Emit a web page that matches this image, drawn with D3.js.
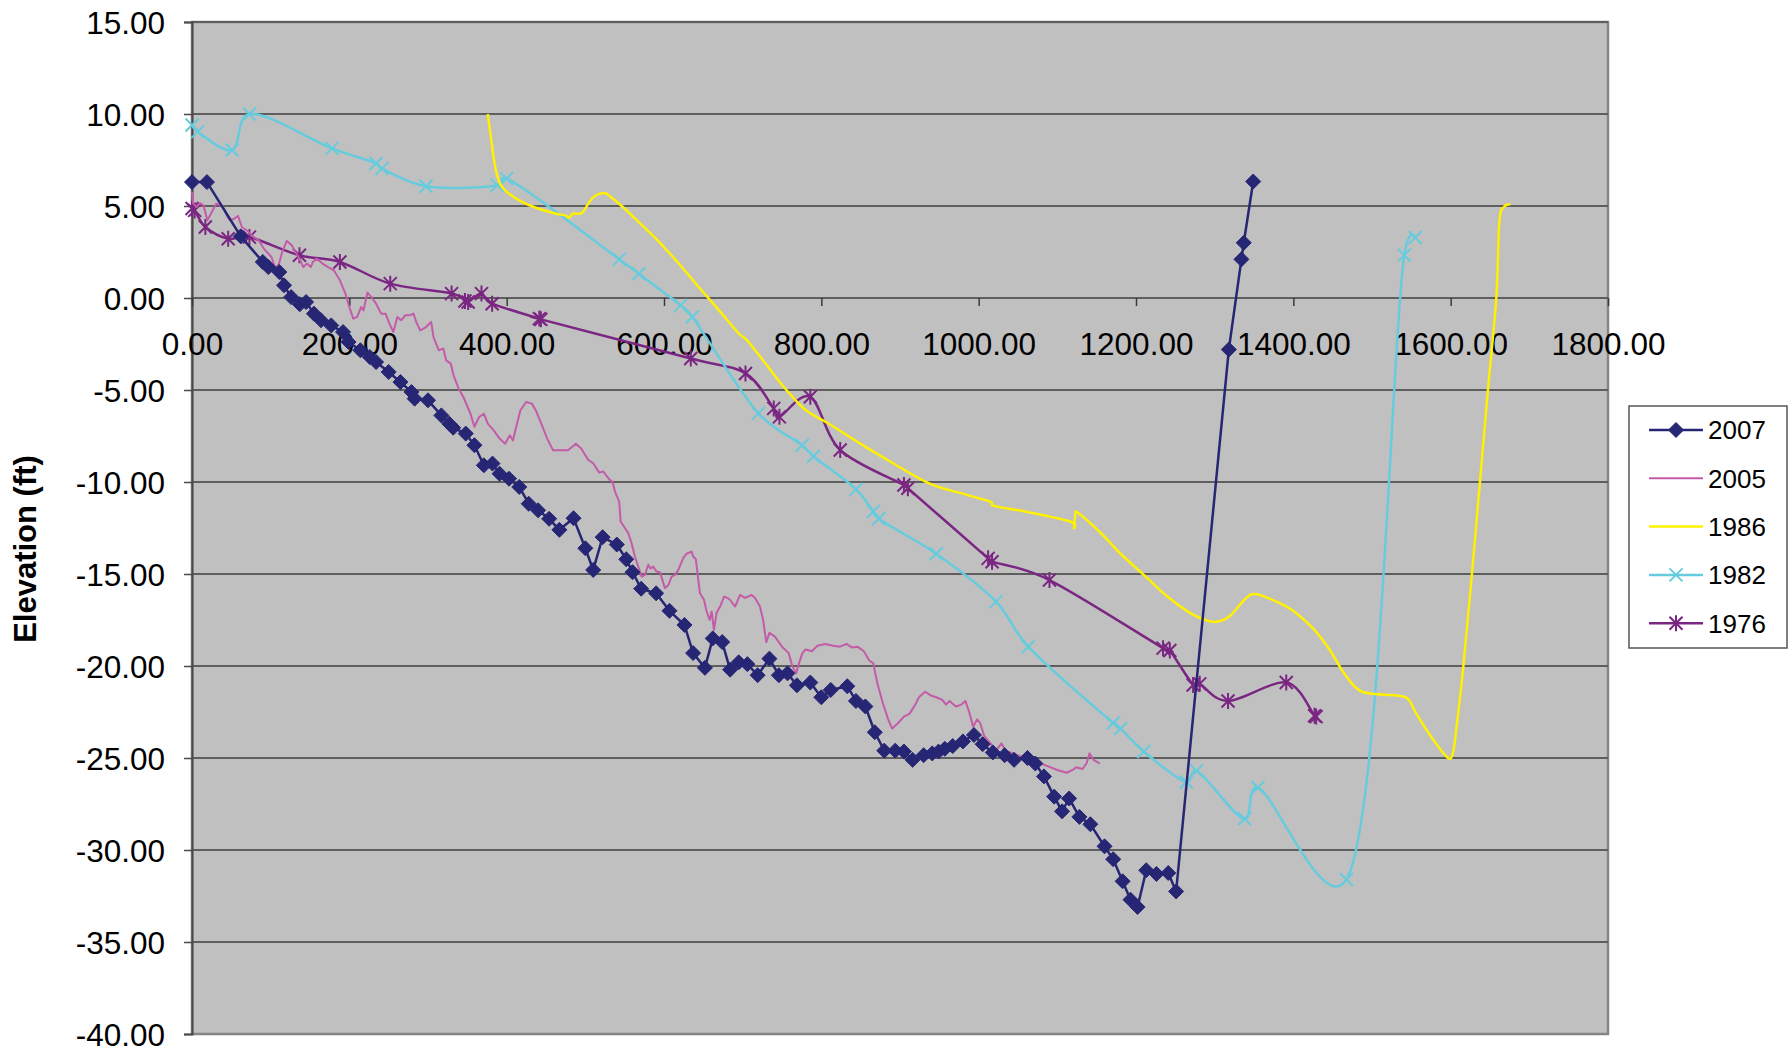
<!DOCTYPE html>
<html><head><meta charset="utf-8">
<script src="https://cdn.jsdelivr.net/npm/d3@7"></script>
<style>
html,body{margin:0;padding:0;background:#fff;}
svg{display:block;font-family:"Liberation Sans",Arial,sans-serif;}
</style></head>
<body>
<svg id="chart" width="1791" height="1052"></svg>
<script>
// ---------- DATA (distance, elevation ft) ----------
const seriesNames = ["2007","2005","1986","1982","1976"];
const xTicks = [0,200,400,600,800,1000,1200,1400,1600,1800];
const yTicks = [15,10,5,0,-5,-10,-15,-20,-25,-30,-35,-40];

const s2007 = [[0,6.3],[19,6.3],[62,3.35],[90,1.96],[97,1.68],[111,1.41],[117,0.69],[126,0.05],[137,-0.34],[145,-0.22],
 [155,-0.85],[164,-1.21],[177,-1.49],[192,-1.85],[199,-2.39],[214,-2.84],[226,-3.21],[234,-3.48],[250,-4.02],[265,-4.57],
 [279,-5.11],[283,-5.47],[300,-5.56],[317,-6.38],[327,-6.83],[332,-7.05],[348,-7.37],[359,-8.0],[371,-9.09],[382,-9.0],
 [391,-9.55],[403,-9.82],[416,-10.27],[428,-11.18],[440,-11.54],[454,-12.0],[467,-12.6],[485,-11.97],[500,-13.6],[510,-14.78],
 [522,-13.0],[540,-13.4],[552,-14.2],[560,-14.9],[571,-15.8],[590,-16.05],[607,-17.0],[626,-17.77],[637,-19.3],[652,-20.1],
 [662,-18.5],[674,-18.7],[684,-20.2],[695,-19.8],[706,-19.9],[719,-20.5],[734,-19.6],[746,-20.5],[757,-20.4],[769,-21.05],
 [786,-20.9],[800,-21.7],[812,-21.3],[833,-21.1],[844,-21.9],[856,-22.2],[868,-23.6],[880,-24.6],[894,-24.6],[905,-24.65],
 [916,-25.1],[930,-24.85],[941,-24.75],[949,-24.65],[957,-24.5],[967,-24.35],[980,-24.1],[994,-23.75],[1005,-24.25],[1018,-24.7],
 [1033,-24.85],[1045,-25.1],[1062,-25.0],[1072,-25.3],[1083,-26.0],[1096,-27.1],[1106,-27.9],[1115,-27.2],[1128,-28.2],[1142,-28.6],
 [1160,-29.8],[1171,-30.5],[1183,-31.7],[1193,-32.7],[1202,-33.1],[1213,-31.1],[1226,-31.3],[1241,-31.25],[1251,-32.25],
 [1318,-2.8],[1334,2.1],[1337,3.0],[1349,6.33]];

const s2005 = [[0,5.76],[1.5,5.13],[6,4.95],[10,5.16],[14.6,5.04],[19.5,4.22],[24,4.58],[30.7,5.13],[39,5.0],[44,4.5],
 [48,4.22],[53.6,4.31],[58.5,4.46],[63.4,3.86],[70.7,3.64],[75.6,3.4],[85,3.13],[90,2.77],[95,2.5],[101,2.23],[106,1.6],
 [110.7,1.87],[114.6,2.5],[120.5,3.1],[127,2.86],[130,2.59],[136.6,2.14],[141.5,1.68],[146,1.87],[151,1.68],[153.7,1.96],
 [158.5,2.14],[166,1.87],[173,1.68],[180.5,1.5],[188,0.96],[195,0.24],[200,-0.49],[205,-1.12],[210,-1.03],[215,-0.49],
 [218,-0.67],[223,0.29],[228,0.05],[234,-0.31],[240.5,-0.85],[246,-0.85],[251,-1.39],[256,-1.85],[261,-1.03],[266,-1.21],
 [271,-0.94],[276.6,-0.94],[281.5,-0.85],[285,-1.3],[290,-1.76],[297.6,-1.58],[304,-1.3],[307,-2.12],[313.7,-2.84],[319.5,-2.75],
 [323,-3.39],[329,-3.57],[332.5,-4.2],[339,-4.93],[345,-5.38],[354,-6.29],[359,-7.0],[365,-6.47],[371,-6.29],[376,-6.83],
 [383.5,-7.19],[391,-7.64],[398,-7.92],[404,-7.46],[408,-7.74],[412.6,-6.92],[417.5,-6.1],[424.8,-5.65],[432,-5.74],[437,-6.1],
 [444,-6.83],[451.5,-7.64],[459,-8.28],[468,-8.28],[478,-8.28],[488,-7.92],[495,-8.19],[503.7,-8.8],[510,-8.98],[517.7,-9.49],
 [522.8,-9.43],[531,-9.89],[534.5,-9.98],[537.7,-10.52],[543,-11.07],[544.9,-12.15],[554.6,-12.78],[558.8,-13.33],[563,-14.05],
 [567.3,-14.6],[571.6,-15.14],[575.8,-15.05],[580,-14.5],[583,-14.7],[586.3,-14.6],[590.6,-14.87],[594.8,-14.9],[601.2,-15.77],
 [605.5,-15.6],[609.7,-15.14],[614,-15.05],[618,-14.8],[624.4,-14.14],[628.6,-13.9],[635,-13.78],[637,-14.05],[640.5,-14.2],
 [645.7,-16.05],[650.8,-16.4],[654,-17.0],[658,-17.5],[660.6,-17.04],[663.5,-18.05],[666.9,-17.1],[671.3,-16.77],[676.4,-16.23],
 [680.6,-16.3],[684,-16.4],[690.4,-16.77],[696.7,-16.14],[703,-16.3],[711.5,-16.14],[715.7,-16.3],[722,-16.77],[726,-17.5],
 [730,-18.7],[734,-18.2],[741,-18.4],[751,-19.0],[758.5,-19.3],[763,-20.0],[768,-20.4],[772,-19.8],[776,-19.3],[780,-19.1],
 [788,-19.2],[795,-18.9],[805,-18.8],[815,-18.9],[824,-18.95],[832,-18.8],[839,-19.0],[846,-18.95],[854,-19.2],[861,-19.7],
 [866,-19.85],[871,-20.9],[878,-22.0],[885,-22.9],[890,-23.4],[897.6,-23.1],[905,-22.75],[912,-22.6],[919.5,-22.1],[924,-21.7],
 [932,-21.4],[939,-21.6],[946,-21.7],[954,-21.85],[958.5,-22.1],[963,-21.9],[971,-22.2],[978,-22.1],[983,-21.9],[988,-22.5],
 [993,-23.3],[998,-22.9],[1002,-23.1],[1007,-23.8],[1015,-24.2],[1022,-24.6],[1029,-24.2],[1034,-24.6],[1044,-24.75],[1058.5,-25.0],
 [1073,-25.2],[1085,-25.4],[1100,-25.65],[1112,-25.8],[1119.5,-25.65],[1124,-25.5],[1132,-25.6],[1137,-25.3],[1141,-24.75],
 [1146,-25.1],[1154,-25.3]];

const s1986 = [[376,10.0],[380,8.73],[384,7.47],[388,6.65],[393,6.11],[403,5.66],[420,5.21],[441,4.85],[462.6,4.58],[475,4.48],
 [479.5,4.36],[484,4.58],[494,4.58],[498.5,4.76],[505,5.21],[513,5.57],[524,5.7],[530,5.57],[547,4.97],[568,4.12],[594,3.04],
 [619,1.86],[644,0.6],[670,-0.67],[695,-1.93],[705.7,-2.3],[729,-3.56],[754,-4.92],[780,-6.09],[809,-6.82],[849,-7.9],
 [888,-8.9],[937,-10.07],[985,-10.7],[1015,-11.07],[1019.5,-11.3],[1058.5,-11.6],[1117,-12.16],[1121,-12.5],[1123,-11.75],
 [1127,-11.7],[1156,-12.8],[1180.5,-13.9],[1210,-15.05],[1239,-16.2],[1268,-17.1],[1288,-17.5],[1302,-17.6],[1319,-17.3],
 [1340,-16.3],[1353,-16.1],[1378.6,-16.5],[1399.7,-17.0],[1425,-17.95],[1446,-19.1],[1463,-20.3],[1480,-21.2],[1497,-21.5],
 [1531,-21.6],[1546,-21.8],[1556.5,-22.6],[1577.6,-24.0],[1596.7,-25.0],[1603,-24.7],[1607,-23.5],[1615.7,-20.2],[1626,-15.5],
 [1637,-10.1],[1648,-4.7],[1658,0.0],[1662,4.2],[1668,4.96],[1676,5.1]];

const s1982 = [[0,9.4],[7.3,9.04],[51,8.04],[73,10.0],[178,8.13],[234,7.31],[241.5,7.04],[297.6,6.07],[388,6.13],[400,6.49],
 [543,2.1],[568,1.32],[621,-0.4],[636,-1.03],[720,-6.27],[775.6,-8.0],[790,-8.6],[844,-10.4],[866,-11.6],[873,-12.0],
 [946,-13.9],[1022,-16.5],[1063,-18.95],[1171,-23.1],[1180.5,-23.4],[1210,-24.65],[1264,-26.3],[1277,-25.7],[1338,-28.3],
 [1355,-26.6],[1467.5,-31.6],[1541,2.33],[1555,3.29]];

const s1976 = [[0,4.86],[3.4,4.76],[17,3.86],[46,3.22],[73,3.31],[136.6,2.32],[188,1.96],[252,0.78],[330,0.24],[347,-0.16],
 [351,-0.22],[368,0.24],[381.5,-0.31],[441.5,-1.12],[443.5,-1.16],[634,-3.29],[703.6,-4.1],[739.5,-6.0],[746.7,-6.46],
 [786,-5.37],[824,-8.26],[905,-10.16],[910,-10.34],[1012,-14.15],[1017,-14.33],[1090,-15.33],[1234.4,-19.03],[1243,-19.16],
 [1272.6,-21.03],[1281,-20.97],[1317,-21.9],[1391,-20.9],[1427,-22.7],[1429,-22.75]];

// ---------- STYLE ----------
const colors = {"2007":"#262675","2005":"#C45BA8","1986":"#FFF100","1982":"#66CCDD","1976":"#7A2682"};
const seriesData = {"2007":s2007,"2005":s2005,"1986":s1986,"1982":s1982,"1976":s1976};
const markers = {"2007":"diamond","2005":null,"1986":null,"1982":"x","1976":"star"};
const curves = {
  "2007": d3.curveLinear,
  "2005": d3.curveLinear,
  "1986": d3.curveCardinal.tension(0),
  "1982": d3.curveCatmullRom.alpha(0.25),
  "1976": d3.curveCardinal.tension(0)
};

const svg = d3.select("#chart");
const L = 192, R = 1608, T = 22, B = 1034;
const x = d3.scaleLinear().domain([0,1800]).range([L,R]);
const y = d3.scaleLinear().domain([-40,15]).range([B,T]);

// plot background
svg.append("rect").attr("x",L).attr("y",T).attr("width",R-L).attr("height",B-T)
  .attr("fill","#C0C0C0").attr("stroke","#858585").attr("stroke-width",2.5);

// gridlines
svg.append("g").selectAll("line").data(yTicks.filter(d=>d>-40)).join("line")
  .attr("x1",L).attr("x2",R).attr("y1",d=>y(d)).attr("y2",d=>y(d))
  .attr("stroke","#5E5E5E").attr("stroke-width",2);

// y axis
const yAxis = svg.append("g").attr("transform",`translate(${L},0)`)
  .call(d3.axisLeft(y).tickValues(yTicks).tickSize(8).tickPadding(19).tickFormat(d=>d.toFixed(2)));
yAxis.select(".domain").attr("stroke","#4A4A4A").attr("stroke-width",2);
yAxis.selectAll(".tick line").attr("stroke","#4A4A4A").attr("stroke-width",1.5);
yAxis.selectAll("text").attr("font-size",31.5).attr("fill","#000").attr("dy","0.36em")
  .attr("font-family","'Liberation Sans',Arial,sans-serif");

// x axis at y = 0
const xAxis = svg.append("g").attr("transform",`translate(0,${y(0)})`)
  .call(d3.axisBottom(x).tickValues(xTicks).tickSize(8).tickPadding(27).tickFormat(d=>d.toFixed(2)));
xAxis.select(".domain").remove();
xAxis.selectAll(".tick line").attr("stroke","#3A3A3A").attr("stroke-width",1.5);
xAxis.selectAll("text").attr("font-size",31.5).attr("fill","#000")
  .attr("font-family","'Liberation Sans',Arial,sans-serif");

// y-axis title
svg.append("text").attr("transform","translate(36,549) rotate(-90)")
  .attr("text-anchor","middle").attr("font-size",31).attr("font-weight","bold").attr("fill","#000")
  .text("Elevation (ft)");

// markers
function drawMarker(g, type, color){
  if(type==="diamond"){
    g.append("path").attr("d","M0,-7.5L7.5,0L0,7.5L-7.5,0Z").attr("fill",color).attr("stroke",color).attr("stroke-width",1);
  } else if(type==="x"){
    g.append("path").attr("d","M-6.5,-6.5L6.5,6.5M-6.5,6.5L6.5,-6.5").attr("stroke",color).attr("stroke-width",2).attr("fill","none");
  } else if(type==="star"){
    g.append("path").attr("d","M-6.5,-6.5L6.5,6.5M-6.5,6.5L6.5,-6.5M0,-8L0,8").attr("stroke",color).attr("stroke-width",2).attr("fill","none");
  }
}

// series (draw order: 2007 on top)
const drawOrder = ["1976","1982","1986","2005","2007"];
drawOrder.forEach(name=>{
  const data = seriesData[name];
  const line = d3.line().x(d=>x(d[0])).y(d=>y(d[1])).curve(curves[name]);
  const g = svg.append("g");
  g.append("path").datum(data).attr("d",line).attr("fill","none")
    .attr("stroke",colors[name]).attr("stroke-width",name==="2005"?2:2.5)
    .attr("stroke-linejoin","round");
  if(markers[name]){
    g.selectAll("g.m").data(data).join("g").attr("class","m")
      .attr("transform",d=>`translate(${x(d[0])},${y(d[1])})`)
      .each(function(){ drawMarker(d3.select(this), markers[name], colors[name]); });
  }
});

// legend
const lg = svg.append("g");
lg.append("rect").attr("x",1629).attr("y",406).attr("width",158).attr("height",242)
  .attr("fill","#fff").attr("stroke","#555").attr("stroke-width",1.5);
seriesNames.forEach((name,i)=>{
  const cy = 430 + i*48.3;
  const e = lg.append("g").attr("transform",`translate(0,${cy})`);
  e.append("line").attr("x1",1649).attr("x2",1703).attr("y1",0).attr("y2",0)
    .attr("stroke",colors[name]).attr("stroke-width",name==="2005"?2:2.5);
  if(markers[name]){
    const m = e.append("g").attr("transform","translate(1676,0)");
    drawMarker(m, markers[name], colors[name]);
  }
  e.append("text").attr("x",1708).attr("y",9.3).attr("font-size",26).attr("fill","#000").text(name);
});
</script>
</body></html>
